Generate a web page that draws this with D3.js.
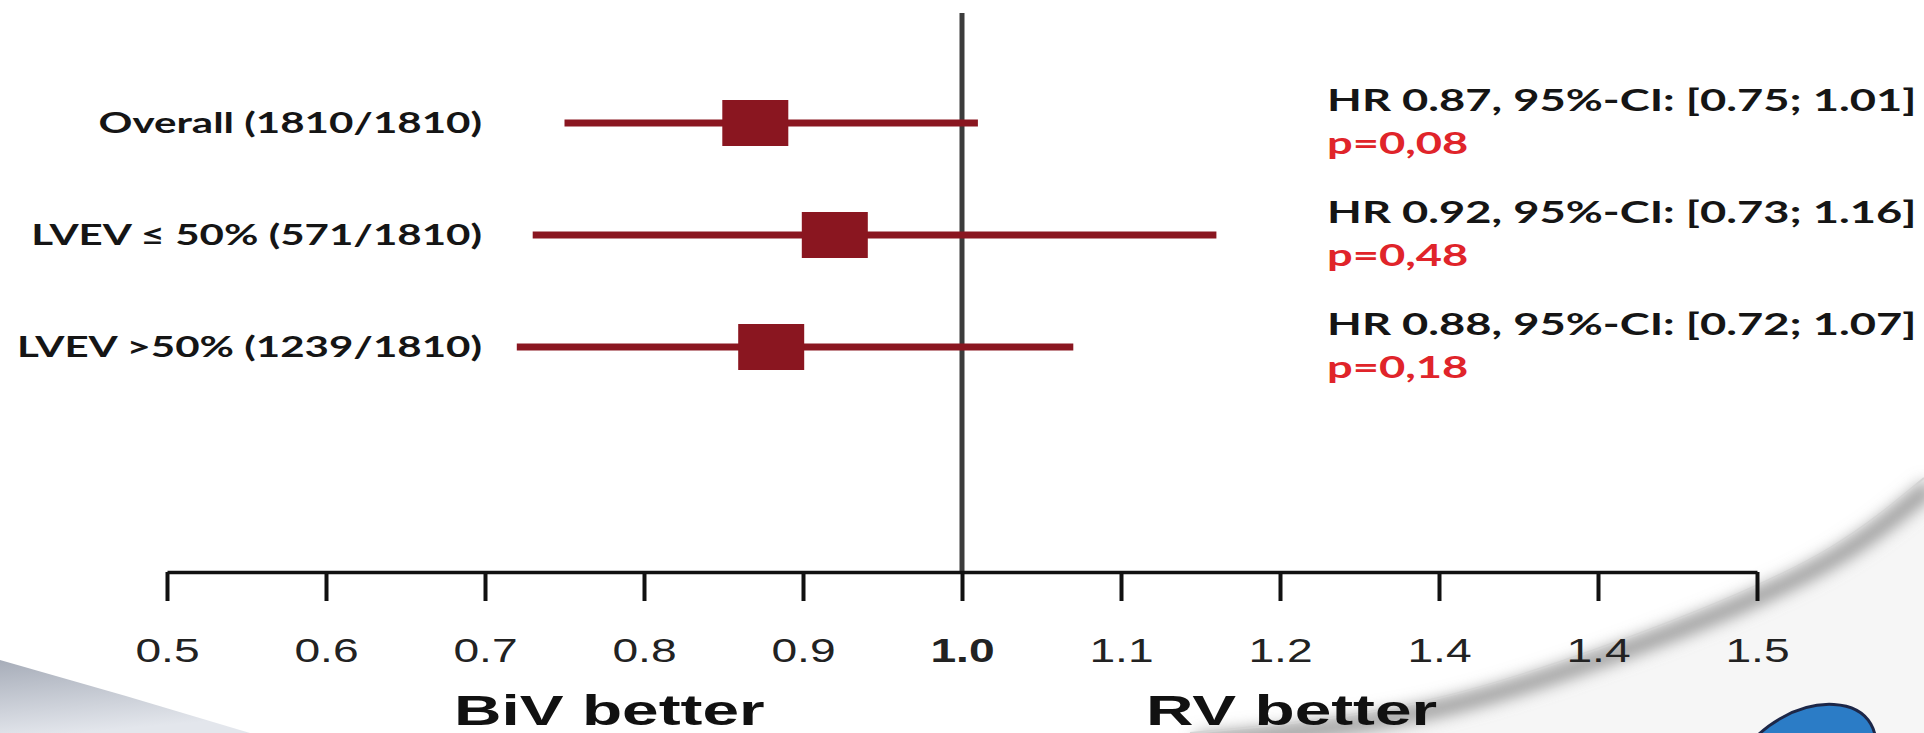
<!DOCTYPE html>
<html lang="en">
<head>
<meta charset="utf-8">
<title>Forest plot BiV vs RV</title>
<script src="https://d3js.org/d3.v7.min.js"></script>
<style>
  html, body { margin: 0; padding: 0; background: #fff; }
  .lbl { font-family: Lato, "Open Sans", sans-serif; font-weight: 700; }
  .tick text { font-family: "Liberation Sans", Arial, sans-serif; }
</style>
</head>
<body>
<svg id="chart" width="1924" height="733"></svg>
<script>
// data
const groups = ["Overall (1810/1810)", "LVEV \u2264 50% (571/1810)", "LVEV >50% (1239/1810)"];
const hr = [0.87, 0.92, 0.88];
const ciLow = [0.75, 0.73, 0.72];
const ciHigh = [1.01, 1.16, 1.07];
const pValues = ["p=0,08", "p=0,48", "p=0,18"];
const tickValues = [0.5, 0.6, 0.7, 0.8, 0.9, 1.0, 1.1, 1.2, 1.3, 1.4, 1.5];
const tickLabels = ["0.5", "0.6", "0.7", "0.8", "0.9", "1.0", "1.1", "1.2", "1.4", "1.4", "1.5"];

const SX = 1.45;   // the original slide is stretched sideways
const svg = d3.select("#chart");

const x = d3.scaleLinear().domain([0.5, 1.5]).range([167, 1757]);
const y = d3.scalePoint().domain(groups).range([123, 347]);
const axisY = 572;

// ---- background decorations (page curl, grey corner, blue blob)
const defs = svg.append("defs");
const g1 = defs.append("linearGradient").attr("id", "cornerGrad")
    .attr("x1", 0).attr("y1", 0).attr("x2", 0.3).attr("y2", 1);
g1.append("stop").attr("offset", "0%").attr("stop-color", "#a7adb9");
g1.append("stop").attr("offset", "100%").attr("stop-color", "#e3e6ec");
defs.append("filter").attr("id", "blur").append("feGaussianBlur").attr("stdDeviation", 8);

svg.append("path")
    .attr("d", "M0,660 Q125,695 250,733 L0,733 Z")
    .attr("fill", "url(#cornerGrad)");

const curl = [[1924, 478], [1830, 548], [1700, 610], [1560, 662], [1430, 700], [1300, 722], [1190, 733]];
const curlLine = d3.line().curve(d3.curveNatural);
svg.append("path")
    .attr("d", curlLine(curl) + "L1924,733Z")
    .attr("fill", "#f6f6f6");
svg.append("path")
    .attr("d", curlLine(curl.map(p => [p[0] + 6, p[1] + 9])))
    .attr("fill", "none").attr("stroke", "#989898").attr("stroke-width", 16)
    .attr("filter", "url(#blur)");
svg.append("path")
    .attr("d", curlLine(curl))
    .attr("fill", "none").attr("stroke", "#d4d4d4").attr("stroke-width", 2);

svg.append("ellipse")
    .attr("transform", "translate(1805,762) rotate(-30)")
    .attr("rx", 76).attr("ry", 50)
    .attr("fill", "#2b7cc6").attr("stroke", "#1d2748").attr("stroke-width", 3);

// ---- reference line at HR = 1
svg.append("line")
    .attr("x1", x(1)).attr("x2", x(1))
    .attr("y1", 13).attr("y2", axisY)
    .attr("stroke", "#3c3c3c").attr("stroke-width", 5);

// ---- axis
const axis = d3.axisBottom(x)
    .tickValues(tickValues)
    .tickFormat((d, i) => tickLabels[i])
    .tickSize(29)
    .tickSizeOuter(0);

const ax = svg.append("g").attr("transform", `translate(0,${axisY})`).call(axis);
ax.select(".domain").attr("stroke", "#111").attr("stroke-width", 3.5);
ax.selectAll(".tick line").attr("stroke", "#111").attr("stroke-width", 4);
ax.selectAll(".tick text")
    .attr("y", 90).attr("dy", 0)
    .attr("transform", "scale(1.4,1)")
    .attr("fill", "#222")
    .style("font-size", "33px")
    .style("font-weight", d => d === 1 ? 700 : 400);

// ---- rows
const rows = svg.append("g").selectAll("g")
    .data(groups)
    .join("g");

rows.append("line")
    .attr("x1", (d, i) => x(ciLow[i]))
    .attr("x2", (d, i) => x(ciHigh[i]))
    .attr("y1", d => y(d)).attr("y2", d => y(d))
    .attr("stroke", "#8a1620").attr("stroke-width", 7);

rows.append("rect")
    .attr("x", (d, i) => x(hr[i]) - 33)
    .attr("y", d => y(d) - 23)
    .attr("width", 66).attr("height", 46)
    .attr("fill", "#8a1620");

rows.append("text")
    .attr("class", "lbl")
    .attr("transform", d => `translate(482,${y(d) + 10}) scale(${SX},1)`)
    .attr("text-anchor", "end")
    .style("font-size", "29px")
    .attr("fill", "#151515")
    .text(d => d);

rows.append("text")
    .attr("class", "lbl")
    .attr("transform", d => `translate(1327,${y(d) - 12}) scale(1.51,1)`)
    .style("font-size", "30px")
    .attr("fill", "#151515")
    .text((d, i) => `HR ${hr[i].toFixed(2)}, 95%-CI: [${ciLow[i].toFixed(2)}; ${ciHigh[i].toFixed(2)}]`);

rows.append("text")
    .attr("class", "lbl")
    .attr("transform", d => `translate(1327,${y(d) + 31}) scale(1.51,1)`)
    .style("font-size", "30px")
    .attr("fill", "#e0242a")
    .text((d, i) => pValues[i]);

// ---- direction labels
svg.append("text")
    .attr("transform", "translate(454,725) scale(1.53,1)")
    .style("font-family", "'Liberation Sans', Arial, sans-serif")
    .style("font-weight", 700).style("font-size", "43px")
    .attr("fill", "#111")
    .text("BiV better");

svg.append("text")
    .attr("transform", "translate(1146,725) scale(1.53,1)")
    .style("font-family", "'Liberation Sans', Arial, sans-serif")
    .style("font-weight", 700).style("font-size", "43px")
    .attr("fill", "#111")
    .text("RV better");
</script>
</body>
</html>
